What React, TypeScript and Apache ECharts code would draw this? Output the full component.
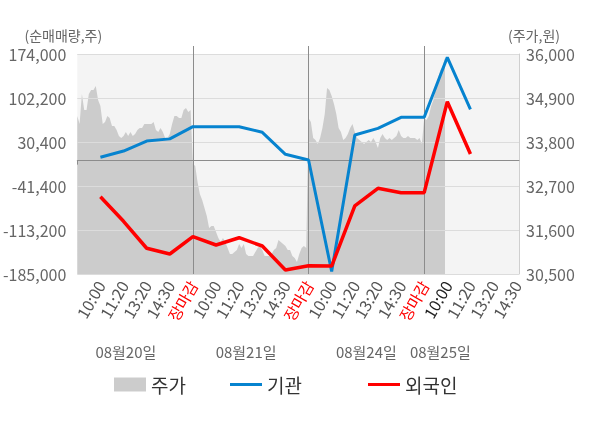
import React, { useEffect, useRef } from 'react';
import * as echarts from 'echarts';

// ---- data ----
const timeLabels = [
  '10:00', '11:20', '13:20', '14:30', '장마감',
  '10:00', '11:20', '13:20', '14:30', '장마감',
  '10:00', '11:20', '13:20', '14:30', '장마감',
  '10:00', '11:20', '13:20', '14:30',
];
const dateLabels = ['08월20일', '08월21일', '08월24일', '08월25일'];

// net buying (shares), one value per time slot 10:00(day1) ... 11:20(day4)
const instNet = [
  5400, 15700, 32000, 35500, 55400,
  55400, 55400, 46200, 10300, 1000,
  -181000, 41800, 52700, 70700, 70700,
  168600, 83800,
];
const foreignNet = [
  -58900, -99000, -143000, -152400, -124100,
  -137700, -125800, -139300, -178500, -171400,
  -172000, -74000, -45200, -52300, -52300,
  96200, 10800,
];

// intraday price (won)
const priceDay1 = [
  34450, 34250, 35000, 34600, 34600, 35000, 35100, 35100, 35200, 34850,
  34700, 34250, 34300, 34450, 34400, 34200, 34200, 34100, 33950, 33900,
  33950, 34050, 33950, 34050, 33950, 34000, 34100, 34150, 34150, 34250,
  34250, 34250, 34250, 34300, 34100, 34050, 34150, 34050, 33900, 33900,
  34000, 34250, 34450, 34450, 34400, 34400, 34600, 34650, 34550, 34600,
];
const priceDay2 = [
  33250, 33200, 32800, 32500, 32350, 32150, 31950, 31650, 31700, 31700,
  31550, 31400, 31300, 31400, 31300, 31150, 31000, 31000, 31050, 31100,
  31250, 31150, 31250, 31000, 30950, 30950, 30950, 31050, 31150, 31200,
  31100, 30950, 30950, 30950, 31000, 31100, 31150, 31350, 31300, 31250,
  31200, 31100, 31100, 30950, 30900, 30800, 31000, 31150, 31200, 31150,
];
const priceDay3 = [
  34400, 34300, 33900, 33850, 33750, 33900, 34150, 34500, 35150, 35100,
  34950, 34750, 34500, 34150, 34050, 33850, 33900, 34000, 34150, 34250,
  34050, 33900, 33850, 33800, 33750, 33800, 33850, 33800, 33900, 33800,
  33650, 33900, 34000, 33900, 33850, 33900, 33850, 33900, 33950, 34100,
  33950, 33900, 33900, 33950, 33900, 33900, 33900, 33850, 33900, 33750,
];
const priceDay4 = [34400, 34350, 34450, 34700, 34850, 35150, 35400, 35600, 35700, 35900];

const leftMin = -185000;
const leftMax = 174000;
const leftStep = 71800;
const rightMin = 30500;
const rightMax = 36000;
const rightStep = 1100;

// ---- layout helpers ----
const SUB = 10; // sub-steps per label slot
const N = 19 * SUB + 2; // category count
const dateIdx = [21, 73, 125, 157];
const dayBreaks = [50, 100, 150];

const cats = Array.from({ length: N }, (_, i) => String(i));
const prices = [...priceDay1, ...priceDay2, ...priceDay3, ...priceDay4];
const priceData = cats.map((_, i) => (i < prices.length ? prices[i] : null));
const slotSeries = (vals: number[]) =>
  cats.map((_, i) => (i % SUB === 0 && i > 0 && i / SUB <= vals.length ? vals[i / SUB - 1] : null));

const FONT = '"Noto Sans CJK KR", "Noto Sans", sans-serif';
const fmt = (v: number) => v.toLocaleString('en-US');

export default function App() {
  const ref = useRef<HTMLDivElement>(null);
  useEffect(() => {
    const chart = echarts.init(ref.current!, null, { renderer: 'svg' });
    chart.setOption({
      animation: false,
      textStyle: { fontFamily: FONT },
      grid: {
        left: 75, right: 81, top: 54, bottom: 154,
        show: true, backgroundColor: '#f4f4f4', borderWidth: 0,
      },
      legend: [
        {
          left: 114, top: 375, padding: 0, icon: 'rect', itemWidth: 32, itemHeight: 14, itemGap: 7,
          selectedMode: false, data: [{ name: '주가', itemStyle: { color: '#cccccc' } }],
          textStyle: { fontSize: 19, color: '#333', fontFamily: FONT },
        },
        {
          left: 230, top: 375, padding: 0, icon: 'rect', itemWidth: 32, itemHeight: 3,
          selectedMode: false, data: ['기관'],
          textStyle: { fontSize: 19, color: '#333', fontFamily: FONT },
        },
        {
          left: 368, top: 375, padding: 0, icon: 'rect', itemWidth: 32, itemHeight: 3,
          selectedMode: false, data: ['외국인'],
          textStyle: { fontSize: 19, color: '#333', fontFamily: FONT },
        },
      ],
      xAxis: [
        {
          type: 'category', data: cats, boundaryGap: false, position: 'bottom', z: 3,
          axisLine: { lineStyle: { color: '#999' } },
          axisTick: {
            show: true, length: 4,
            interval: (i: number) => i % 50 === 0 && i < 191,
            lineStyle: { color: '#8c8c8c' },
          },
          axisLabel: {
            interval: (i: number) => i > 0 && i % SUB === 0,
            rotate: 60, margin: 8, fontSize: 16, color: '#555', fontFamily: FONT,
            formatter: (v: string) => {
              const k = Number(v) / SUB;
              const t = timeLabels[k - 1] || '';
              if (t === '장마감') return '{c|' + t + '}';
              if (k === 16) return '{d|' + t + '}';
              return t;
            },
            rich: {
              c: { color: '#ff0000', fontSize: 15.5, fontFamily: FONT },
              d: { color: '#222', fontSize: 16, fontFamily: FONT },
            },
          },
          splitLine: {
            show: true,
            interval: (i: number) => dayBreaks.includes(i),
            lineStyle: { color: '#8c8c8c', width: 1 },
          },
        },
        {
          type: 'category', data: cats, boundaryGap: false, position: 'top', z: 3,
          axisLine: { show: false },
          axisTick: {
            show: true, length: 8,
            interval: (i: number) => dayBreaks.includes(i),
            lineStyle: { color: '#8c8c8c' },
          },
          axisLabel: { show: false },
          splitLine: { show: false },
        },
        {
          type: 'category', data: cats, boundaryGap: false, position: 'bottom', offset: 0,
          axisLine: { show: false }, axisTick: { show: false }, splitLine: { show: false },
          axisLabel: {
            interval: (i: number) => dateIdx.includes(i),
            margin: 70, fontSize: 15, color: '#666', fontFamily: FONT,
            formatter: (v: string) => {
              const j = dateIdx.indexOf(Number(v));
              return j >= 0 ? dateLabels[j] : '';
            },
          },
        },
      ],
      yAxis: [
        {
          type: 'value', position: 'left', min: leftMin, max: leftMax, interval: leftStep, z: 3,
          axisLine: { show: false }, axisTick: { show: false },
          axisLabel: { color: '#666', fontSize: 16, margin: 11, formatter: fmt, fontFamily: FONT },
          splitLine: { lineStyle: { color: '#dcdcdc' } },
          name: '(순매매량,주)', nameLocation: 'end', nameGap: 12,
          nameTextStyle: { color: '#666', fontSize: 14, padding: [0, 28, 0, 0], fontFamily: FONT },
        },
        {
          type: 'value', position: 'right', min: rightMin, max: rightMax, interval: rightStep, z: 3,
          axisLine: { show: true, lineStyle: { color: '#cfcfcf' } }, axisTick: { show: false },
          axisLabel: { color: '#666', fontSize: 16, margin: 7, formatter: fmt, fontFamily: FONT },
          splitLine: { show: false },
          name: '(주가,원)', nameLocation: 'end', nameGap: 12,
          nameTextStyle: { color: '#666', fontSize: 14, padding: [0, 0, 0, 30], fontFamily: FONT },
        },
      ],
      series: [
        {
          name: '주가', type: 'line', xAxisIndex: 0, yAxisIndex: 1, data: priceData,
          symbol: 'none', z: 2, color: '#cccccc',
          lineStyle: { width: 0, color: '#cccccc' },
          areaStyle: { color: '#cccccc', opacity: 1, origin: 'start' },
        },
        {
          name: '기관', type: 'line', xAxisIndex: 0, yAxisIndex: 0, data: slotSeries(instNet),
          connectNulls: true, symbol: 'none', z: 6, color: '#0683cf',
          lineStyle: { width: 3, color: '#0683cf' },
          markLine: {
            silent: true, symbol: ['none', 'none'], label: { show: false }, z: 4,
            lineStyle: { color: '#8c8c8c', type: 'solid', width: 1 },
            data: [{ yAxis: 0 }],
          },
        },
        {
          name: '외국인', type: 'line', xAxisIndex: 0, yAxisIndex: 0, data: slotSeries(foreignNet),
          connectNulls: true, symbol: 'none', z: 6, color: '#ff0000',
          lineStyle: { width: 3.5, color: '#ff0000' },
        },
      ],
    });
    return () => chart.dispose();
  }, []);
  return <div ref={ref} style={{ position: 'fixed', left: 0, top: 0, width: 600, height: 428 }} />;
}
